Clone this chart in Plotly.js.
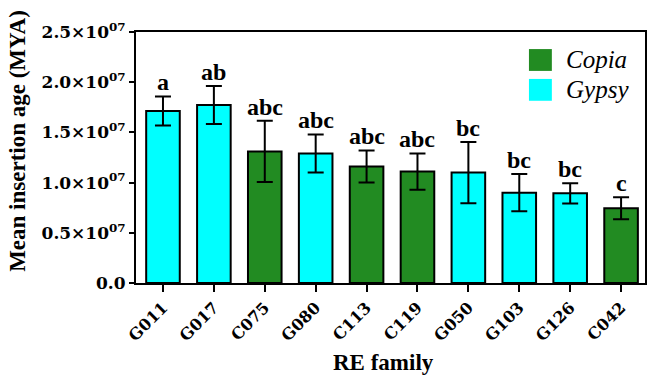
<!DOCTYPE html>
<html><head><meta charset="utf-8">
<script src="https://cdn.plot.ly/plotly-3.0.1.min.js"></script>
<style>body{margin:0;background:#fff}#c{width:650px;height:375px}</style>
</head><body><div id="c"></div>
<script>
const families = ["G011","G017","C075","G080","C113","C119","G050","G103","G126","C042"];
const types = ["Gypsy","Gypsy","Copia","Gypsy","Copia","Copia","Gypsy","Gypsy","Gypsy","Copia"];
const means = [1.713e7,1.773e7,1.31e7,1.29e7,1.16e7,1.11e7,1.10e7,0.90e7,0.893e7,0.744e7];
const errs = [0.145e7,0.19e7,0.305e7,0.19e7,0.16e7,0.18e7,0.305e7,0.185e7,0.10e7,0.11e7];
const letters = ["a","ab","abc","abc","abc","abc","bc","bc","bc","c"];
const yTickVals = [0,0.5e7,1.0e7,1.5e7,2.0e7,2.5e7];
const yTickText = ["0.0","0.5×10<sup>07</sup>","1.0×10<sup>07</sup>","1.5×10<sup>07</sup>","2.0×10<sup>07</sup>","2.5×10<sup>07</sup>"];
const legendNames = ["Copia","Gypsy"];
const colors = {Copia:"#228B22", Gypsy:"#00FFFF"};

const serif = "Liberation Serif";
const wide = "DejaVu Serif";
const traces = legendNames.map(t => {
  const idx = families.map((f,i)=>i).filter(i=>types[i]===t);
  return {
    type:"bar", name:t, showlegend:false,
    x: idx.map(i=>families[i]), y: idx.map(i=>means[i]),
    marker:{color:colors[t], line:{color:"#000", width:2}},
    error_y:{type:"data", array: idx.map(i=>errs[i]), color:"#000", thickness:2, width:8},
    width:0.66
  };
});

const annotations = families.map((f,i)=>({
  x:f, y:means[i]+errs[i], text:"<b>"+letters[i]+"</b>", showarrow:false,
  yanchor:"bottom", yshift:-1, font:{family:serif, size:24, color:"#000"}
}));
// custom legend (paper coords)
const shapes = [];
legendNames.forEach((t,k)=>{
  const y1 = 0.932 - k*0.119, y0 = y1 - 0.087;
  shapes.push({type:"rect", xref:"paper", yref:"paper", x0:0.772, x1:0.817, y0:y0, y1:y1,
    fillcolor:colors[t], line:{width:0}});
  annotations.push({xref:"paper", yref:"paper", x:0.84, y:(y0+y1)/2, xanchor:"left", yanchor:"middle",
    text:"<i>"+t+"</i>", showarrow:false, font:{family:serif, size:25, color:"#000"}});
});
// axis titles placed as annotations
annotations.push({xref:"paper", yref:"paper", x:-0.232, y:0.566, textangle:-90, showarrow:false,
  xanchor:"center", yanchor:"middle",
  text:"<b>Mean insertion age (MYA)</b>", font:{family:serif, size:23, color:"#000"}});
annotations.push({xref:"paper", yref:"paper", x:0.487, y:-0.315, showarrow:false,
  xanchor:"center", yanchor:"middle",
  text:"<b>RE family</b>", font:{family:serif, size:23, color:"#000"}});

const layout = {
  width:650, height:375,
  margin:{l:136, r:5, t:32, b:92},
  paper_bgcolor:"#fff", plot_bgcolor:"#fff",
  font:{family:serif},
  showlegend:false,
  xaxis:{
    type:"category", categoryorder:"array", categoryarray:families,
    range:[-0.53,9.47],
    showline:true, linecolor:"#000", linewidth:2, mirror:true,
    ticks:"outside", ticklen:7, tickwidth:2, tickcolor:"#000",
    tickangle:-45, tickfont:{family:wide, size:16, color:"#000", weight:"bold"},
    showgrid:false, zeroline:false
  },
  yaxis:{
    range:[0,2.5e7], tickvals:yTickVals, ticktext:yTickText,
    showline:true, linecolor:"#000", linewidth:2, mirror:true,
    ticks:"outside", ticklen:5, tickwidth:2, tickcolor:"#000",
    tickfont:{family:wide, size:17, color:"#000", weight:"bold"},
    showgrid:false, zeroline:false
  },
  annotations: annotations,
  shapes: shapes
};
Plotly.newPlot("c", traces, layout, {displayModeBar:false, staticPlot:true});
</script></body></html>
